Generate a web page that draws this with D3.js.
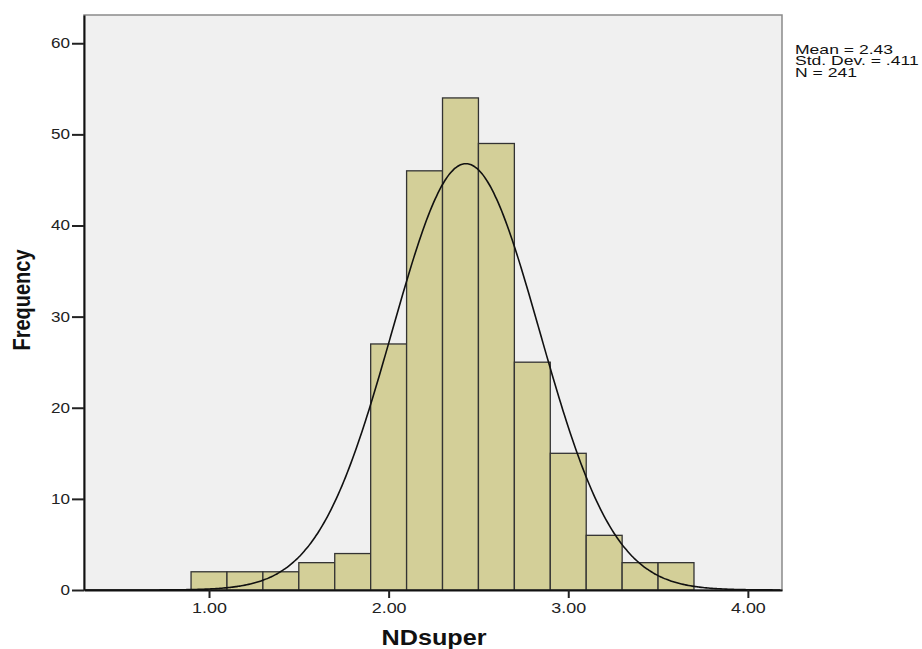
<!DOCTYPE html>
<html>
<head>
<meta charset="utf-8">
<script src="https://cdn.jsdelivr.net/npm/d3@7"></script>
<style>
  body { margin: 0; background: #fff; }
  text { font-family: "Liberation Sans", Arial, sans-serif; }
</style>
</head>
<body>
<div id="chart"></div>
<script>
// histogram bins (lower edge, width 0.2) and counts
var binStarts = [0.9, 1.1, 1.3, 1.5, 1.7, 1.9, 2.1, 2.3, 2.5, 2.7, 2.9, 3.1, 3.3, 3.5];
var counts = [2, 2, 2, 3, 4, 27, 46, 54, 49, 25, 15, 6, 3, 3];
var binWidth = 0.2;
var xTicks = [1, 2, 3, 4];
var yTicks = [0, 10, 20, 30, 40, 50, 60];
var statsLines = ["Mean = 2.43", "Std. Dev. = .411", "N = 241"];
var mean = 2.43, sd = 0.411, n = 241;

var width = 922, height = 649;
var margin = {top: 15, right: 140, bottom: 59, left: 84};
var w = width - margin.left - margin.right,
    h = height - margin.top - margin.bottom;

var svg = d3.select("#chart").append("svg")
    .attr("width", width)
    .attr("height", height);

var g = svg.append("g")
    .attr("transform", "translate(" + margin.left + "," + margin.top + ")");

var x = d3.scaleLinear().domain([0.304, 4.19]).range([0, w]);
var y = d3.scaleLinear().domain([0, 63.1]).range([h, 0]);

// plot background + grey frame
g.append("rect")
    .attr("width", w)
    .attr("height", h)
    .attr("fill", "#f0f0f0")
    .attr("stroke", "#8a8a8a")
    .attr("stroke-width", 1.5);

// bars
g.selectAll(".bar")
    .data(binStarts)
  .enter().append("rect")
    .attr("class", "bar")
    .attr("x", function(d) { return x(d); })
    .attr("width", function(d) { return x(d + binWidth) - x(d); })
    .attr("y", function(d, i) { return y(counts[i]); })
    .attr("height", function(d, i) { return h - y(counts[i]); })
    .attr("fill", "#d3cf98")
    .attr("stroke", "#333")
    .attr("stroke-width", 1.3);

// normal curve scaled to counts
var curvePts = d3.range(0.31, 4.19, 0.01).map(function(v) {
  var z = (v - mean) / sd;
  return [v, n * binWidth * Math.exp(-0.5 * z * z) / (sd * Math.sqrt(2 * Math.PI))];
});
g.append("path")
    .datum(curvePts)
    .attr("fill", "none")
    .attr("stroke", "#111")
    .attr("stroke-width", 1.6)
    .attr("d", d3.line()
      .x(function(d) { return x(d[0]); })
      .y(function(d) { return y(d[1]); })
      .curve(d3.curveBasis));

// axes
var xAxis = d3.axisBottom(x)
    .tickValues(xTicks)
    .tickFormat(d3.format(".2f"))
    .tickSize(8)
    .tickSizeOuter(0);
var yAxis = d3.axisLeft(y)
    .tickValues(yTicks)
    .tickFormat(d3.format("d"))
    .tickSize(12)
    .tickSizeOuter(0);

var gx = g.append("g")
    .attr("transform", "translate(0," + h + ")")
    .call(xAxis);
var gy = g.append("g").call(yAxis);

[gx, gy].forEach(function(a) {
  a.select(".domain").attr("stroke", "#111").attr("stroke-width", 2);
  a.selectAll(".tick line").attr("stroke", "#222").attr("stroke-width", 2);
  a.selectAll(".tick text")
    .attr("fill", "#222")
    .style("font-size", "14px")
    .style("font-family", "'Liberation Sans', Arial, sans-serif");
});
// the labels in the original are drawn a bit wide
gx.selectAll(".tick text")
    .attr("y", 0)
    .attr("dy", 0)
    .attr("transform", "translate(0,22.5) scale(1.28,1)");
gy.selectAll(".tick text")
    .attr("x", 0)
    .attr("transform", "translate(-14,0) scale(1.22,1)");

// axis titles
svg.append("text")
    .attr("transform", "translate(434,645) scale(1.145,1)")
    .attr("text-anchor", "middle")
    .style("font-size", "22px")
    .style("font-weight", "bold")
    .attr("fill", "#111")
    .text("NDsuper");

svg.append("text")
    .attr("transform", "translate(29.5,300) scale(1.15,1) rotate(-90)")
    .attr("text-anchor", "middle")
    .style("font-size", "20px")
    .style("font-weight", "bold")
    .attr("fill", "#111")
    .text("Frequency");

// stats legend
svg.append("g")
    .attr("transform", "translate(795,53.5)")
  .selectAll("text")
    .data(statsLines)
  .enter().append("text")
    .attr("transform", function(d, i) { return "translate(0," + (i * 11.5) + ") scale(1.35,1)"; })
    .style("font-size", "13px")
    .attr("fill", "#111")
    .text(function(d) { return d; });
</script>
</body>
</html>
